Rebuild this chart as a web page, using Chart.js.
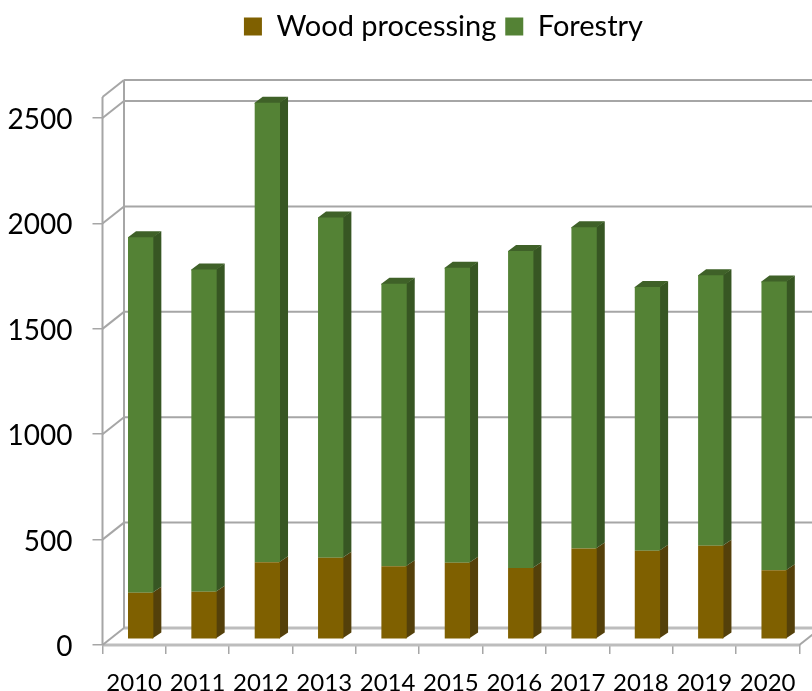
<!DOCTYPE html>
<html>
<head>
<meta charset="utf-8">
<script src="https://cdn.jsdelivr.net/npm/chart.js@4"></script>
<style>
  html, body { margin: 0; padding: 0; background: #fff; }
  canvas { display: block; }
</style>
</head>
<body>
<canvas id="woodChart" width="812" height="691"></canvas>
<script>
const years = ['2010', '2011', '2012', '2013', '2014', '2015', '2016', '2017', '2018', '2019', '2020'];
const woodProcessing = [221, 226, 365, 387, 347, 363, 338, 431, 420, 444, 328];
const forestry = [1686, 1528, 2181, 1614, 1340, 1400, 1504, 1524, 1251, 1283, 1370];
const yTicks = [0, 500, 1000, 1500, 2000, 2500];

// depth of the fake 3D box, in pixels
const wall = { dx: 21.5, dy: -17 };
const barShift = { dx: 6.5, dy: -5.7 };
const barDepth = { dx: 8, dy: -6 };

const sideColors = ['#54400a', '#375623'];
const topColors = ['#6b5208', '#3f6128'];

function drawLine(ctx, x1, y1, x2, y2, color, width) {
    ctx.beginPath();
    ctx.moveTo(x1, y1);
    ctx.lineTo(x2, y2);
    ctx.strokeStyle = color;
    ctx.lineWidth = width;
    ctx.stroke();
}

function drawFace(ctx, points, color) {
    ctx.beginPath();
    points.forEach((p, i) => i ? ctx.lineTo(p[0], p[1]) : ctx.moveTo(p[0], p[1]));
    ctx.closePath();
    ctx.fillStyle = color;
    ctx.fill();
}

const box3d = {
    id: 'box3d',
    afterInit(chart) {
        // keep the legend strip as tall as the space above the plot
        const legend = chart.legend;
        const fit = legend.fit;
        legend.fit = function () {
            fit.call(this);
            this.height = 94;
        };
    },
    afterLayout(chart) {
        // legend is centred on the right part of the picture, not on the canvas
        chart.legend.left = 75;
        chart.legend.right = 812;
        chart.legend.width = 737;
    },
    beforeDatasetsDraw(chart) {
        const ctx = chart.ctx;
        const xs = chart.scales.x, ys = chart.scales.y;
        const color = '#a6a6a6';
        ctx.save();
        // floor
        drawLine(ctx, xs.left + wall.dx, ys.bottom + wall.dy, chart.width, ys.bottom + wall.dy, '#bdbdbd', 3);
        drawLine(ctx, xs.left, ys.bottom, xs.right, ys.bottom, '#bdbdbd', 3);
        drawLine(ctx, xs.right, ys.bottom, xs.right + wall.dx, ys.bottom + wall.dy, color, 2);
        // back wall grid lines and their diagonals
        const lines = yTicks.concat([ys.max]);
        lines.forEach(v => {
            const y = ys.getPixelForValue(v);
            drawLine(ctx, xs.left, y, xs.left + wall.dx, y + wall.dy, color, 2);
            if (v > 0) drawLine(ctx, xs.left + wall.dx, y + wall.dy, chart.width, y + wall.dy, color, 2);
        });
        // side wall verticals
        drawLine(ctx, xs.left, ys.top, xs.left, ys.bottom, color, 2);
        drawLine(ctx, xs.left + wall.dx, ys.top + wall.dy, xs.left + wall.dx, ys.bottom + wall.dy, color, 2);

        // side and top faces of the columns, pushed in with the same shift as the fronts
        ctx.translate(barShift.dx, barShift.dy);
        chart.data.datasets.forEach((ds, i) => {
            chart.getDatasetMeta(i).data.forEach(bar => {
                const r = bar.x + bar.width / 2, l = bar.x - bar.width / 2;
                // 1px under the front face so no light seam shows
                drawFace(ctx, [[r - 1, bar.y], [r + barDepth.dx, bar.y + barDepth.dy],
                    [r + barDepth.dx, bar.base + barDepth.dy], [r - 1, bar.base]], sideColors[i]);
                if (i === 1) {
                    drawFace(ctx, [[l, bar.y + 1], [l, bar.y], [l + barDepth.dx, bar.y + barDepth.dy],
                        [r + barDepth.dx, bar.y + barDepth.dy], [r, bar.y], [r, bar.y + 1]], topColors[i]);
                }
            });
        });
        // library draws the front faces inside this shift, afterDatasetsDraw restores it
    },
    afterDatasetsDraw(chart) {
        chart.ctx.restore();
    }
};

new Chart(document.getElementById('woodChart'), {
    type: 'bar',
    plugins: [box3d],
    data: {
        labels: years,
        datasets: [
            { label: 'Wood processing', data: woodProcessing, backgroundColor: '#7f6000', clip: false },
            { label: 'Forestry', data: forestry, backgroundColor: '#548235', clip: false }
        ]
    },
    options: {
        responsive: false,
        animation: false,
        layout: { padding: { left: 0, right: 12.7, top: 3, bottom: 0 } },
        categoryPercentage: 0.4,
        barPercentage: 1,
        plugins: {
            tooltip: { enabled: false },
            legend: {
                position: 'top',
                labels: {
                    color: '#000',
                    boxWidth: 18,
                    boxHeight: 18,
                    padding: 9,
                    font: { family: 'Lato', size: 29 }
                }
            }
        },
        scales: {
            x: {
                stacked: true,
                afterFit(scale) { scale.height = 46; },
                border: { display: false },
                grid: { drawOnChartArea: false, drawTicks: true, tickLength: 9, color: '#a6a6a6', lineWidth: 1.5 },
                ticks: { color: '#000', padding: 15, autoSkip: false, maxRotation: 0, font: { family: 'Lato', size: 24 } }
            },
            y: {
                stacked: true,
                min: 0,
                max: 2600,
                afterFit(scale) { scale.width = 102.5; },
                afterBuildTicks(scale) { scale.ticks = yTicks.map(v => ({ value: v })); },
                border: { display: false },
                grid: { drawOnChartArea: false, drawTicks: true, tickLength: 10, color: '#a6a6a6', lineWidth: 1.5 },
                ticks: { color: '#000', padding: 20, labelOffset: 2, callback: v => String(v), font: { family: 'Lato', size: 28 } }
            }
        }
    }
});
</script>
</body>
</html>
